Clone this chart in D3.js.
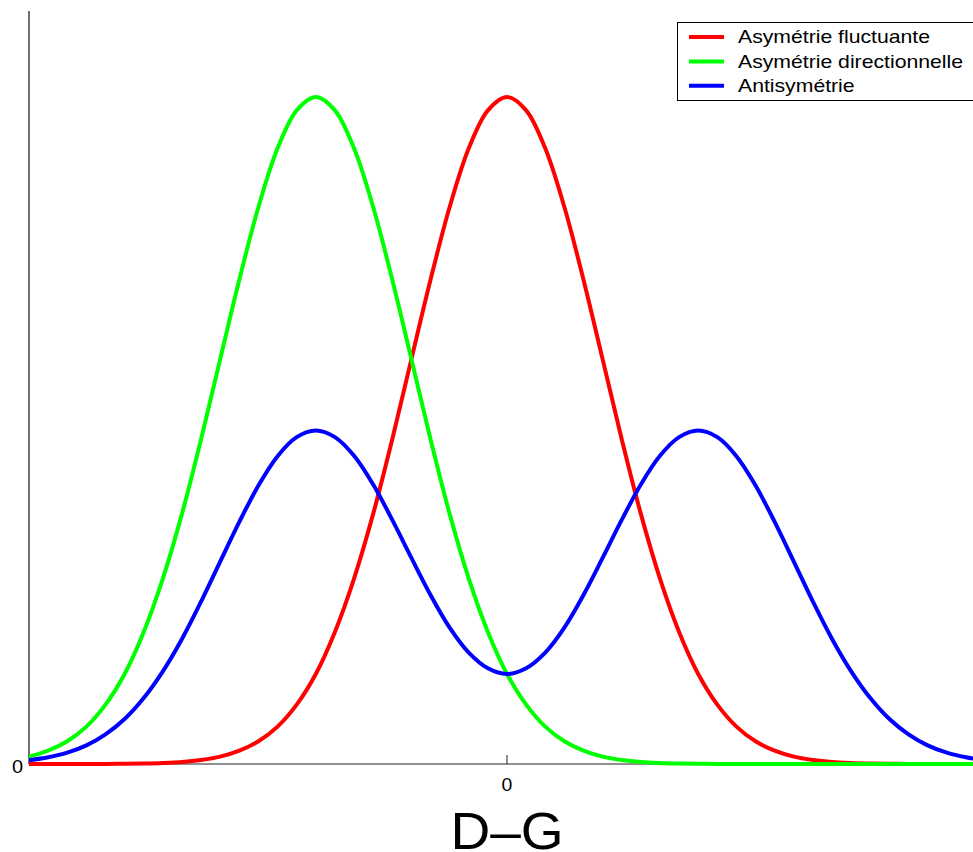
<!DOCTYPE html>
<html><head><meta charset="utf-8">
<script src="https://cdn.jsdelivr.net/npm/d3@7"></script>
<style>body{margin:0;background:#fff;}svg{display:block;font-family:"Liberation Sans",Arial,sans-serif;}</style>
</head><body>
<svg id="c" width="973" height="852"></svg>
<script>
const xValues = d3.range(51).map(i => +(-2.5 + 0.1 * i).toFixed(1));
const fluctuante = [0,0,0,0.0001,0.0001,0.0003,0.0007,0.0015,0.003,0.006,0.011,0.020,0.034,0.056,0.089,0.135,0.198,0.278,0.375,0.487,0.607,0.726,0.835,0.923,0.980,1,0.980,0.923,0.835,0.726,0.607,0.487,0.375,0.278,0.198,0.135,0.089,0.056,0.034,0.020,0.011,0.006,0.003,0.0015,0.0007,0.0003,0.0001,0.0001,0,0,0];
const directionnelle = [0.011,0.020,0.034,0.056,0.089,0.135,0.198,0.278,0.375,0.487,0.607,0.726,0.835,0.923,0.980,1,0.980,0.923,0.835,0.726,0.607,0.487,0.375,0.278,0.198,0.135,0.089,0.056,0.034,0.020,0.011,0.006,0.003,0.0015,0.0007,0.0003,0.0001,0.0001,0,0,0,0,0,0,0,0,0,0,0,0,0];
const antisymetrie = [0.0055,0.010,0.017,0.028,0.0445,0.0675,0.099,0.139,0.1875,0.2435,0.3035,0.363,0.4175,0.4615,0.490,0.500,0.490,0.462,0.419,0.366,0.309,0.2535,0.2045,0.167,0.1435,0.135,0.1435,0.167,0.2045,0.2535,0.309,0.366,0.419,0.462,0.490,0.500,0.490,0.4615,0.4175,0.363,0.3035,0.2435,0.1875,0.139,0.099,0.0675,0.0445,0.028,0.017,0.010,0.0055];
const seriesNames = ["Asymétrie fluctuante","Asymétrie directionnelle","Antisymétrie"];
const seriesColors = ["#ff0000","#00ff00","#0000ff"];
const seriesData = [fluctuante, directionnelle, antisymetrie];
const xTicks = [0];
const yTicks = [0];
const xLabel = "D\u2013G";

const svg = d3.select("#c");
const x = d3.scaleLinear().domain([-2.5, 2.5]).range([29, 985]);
const y = d3.scaleLinear().domain([0, 1]).range([764, 97]);
const yTop = 11;

function stretchedText(g, tx, ty, size, sx, anchor, str) {
  return g.append("text")
    .attr("transform", `translate(${tx},${ty}) scale(${sx},1)`)
    .attr("text-anchor", anchor).attr("font-size", size).text(str);
}

// axes
svg.append("line").attr("x1",29).attr("x2",973).attr("y1",y(0)).attr("y2",y(0)).attr("stroke","#222").attr("stroke-width",1);
svg.append("line").attr("x1",29).attr("x2",29).attr("y1",yTop).attr("y2",y(0)).attr("stroke","#222").attr("stroke-width",1.3);
xTicks.forEach(t => {
  svg.append("line").attr("x1",x(t)).attr("x2",x(t)).attr("y1",y(0)).attr("y2",y(0)-9).attr("stroke","#222");
  stretchedText(svg, x(t), 791, 18.5, 1.05, "middle", t);
});
yTicks.forEach(t => {
  stretchedText(svg, 23, y(t)+9, 19, 1.05, "end", t);
});
stretchedText(svg, x(0), 849, 51, 1.08, "middle", xLabel);

svg.append("clipPath").attr("id","pc").append("rect").attr("x",29).attr("y",0).attr("width",944).attr("height",852);
const line = d3.line().x((d,i)=>x(xValues[i])).y(d=>y(d)).curve(d3.curveCatmullRom.alpha(0.5));
seriesData.forEach((s,k)=>{
  svg.append("path").attr("d",line(s)).attr("fill","none").attr("stroke",seriesColors[k]).attr("stroke-width",4).attr("stroke-linejoin","round").attr("clip-path","url(#pc)");
});

// legend
const lg = svg.append("g");
lg.append("rect").attr("x",677.5).attr("y",22.5).attr("width",310).attr("height",78).attr("fill","#fff").attr("stroke","#000").attr("stroke-width",1);
seriesNames.forEach((n,k)=>{
  const yy = 37 + k*24.4;
  lg.append("line").attr("x1",689).attr("x2",724).attr("y1",yy).attr("y2",yy).attr("stroke",seriesColors[k]).attr("stroke-width",4);
  stretchedText(lg, 738, yy+6.3, 18.6, 1.14, "start", n);
});
</script>
</body></html>
